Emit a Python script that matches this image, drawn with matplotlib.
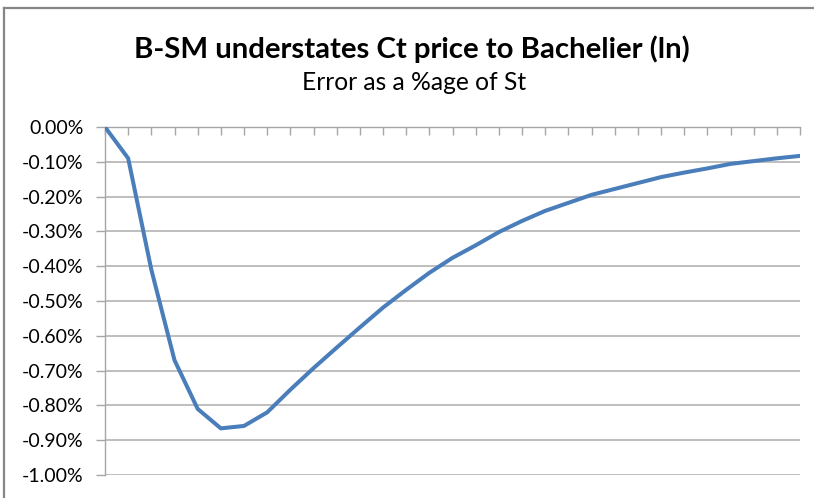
import matplotlib
matplotlib.use("Agg")
import matplotlib.pyplot as plt
from matplotlib.lines import Line2D
from matplotlib.ticker import FuncFormatter, MultipleLocator

# ---- data (error as a fraction of St) ----
steps = list(range(31))
error = [0.0, -0.0009, -0.0041, -0.0067, -0.0081, -0.00866, -0.00859, -0.0082,
         -0.00755, -0.00693, -0.00634, -0.00576, -0.00519, -0.00468, -0.00419,
         -0.00376, -0.00340, -0.00302, -0.00270, -0.00241, -0.00218, -0.00195,
         -0.00178, -0.00161, -0.00144, -0.00131, -0.00119, -0.00106, -0.00098,
         -0.00090, -0.00083]
title = "B-SM understates Ct price to Bachelier (ln)"
subtitle = "Error as a %age of St"

W, H = 814, 498
fig = plt.figure(figsize=(W / 100, H / 100), dpi=100)
fig.patch.set_facecolor("white")

ax = fig.add_axes([105 / W, 1 - 475 / H, (800 - 105) / W, (475 - 127) / H])
ax.plot(steps, error, color="#4A7EBB", lw=2.9, solid_joinstyle="round", zorder=3)
ax.set_xlim(0, 30)
ax.set_ylim(-0.01, 0)

ax.yaxis.set_major_locator(MultipleLocator(0.001))
ax.yaxis.set_major_formatter(FuncFormatter(
    lambda v, p: "0.00%" if abs(v) < 1e-12 else f"{v * 100:.2f}%"))
ax.grid(axis="y", color="#B3B3B3", lw=1.2, zorder=1)
ax.set_axisbelow(True)

for s in ("right", "bottom"):
    ax.spines[s].set_visible(False)
for s in ("left", "top"):
    ax.spines[s].set_color("#A6A6A6")
    ax.spines[s].set_linewidth(1.0)

ax.xaxis.set_ticks_position("top")
ax.set_xticks(steps)
ax.tick_params(axis="x", which="both", direction="in", length=6, color="#A6A6A6",
               labeltop=False, labelbottom=False, width=1.0)
ax.tick_params(axis="y", direction="out", length=6.5, color="#A6A6A6", width=1.0,
               pad=9, labelsize=14, labelcolor="#000000")
for lab in ax.get_yticklabels():
    lab.set_fontfamily("Lato")

# title and subtitle, scaled to match widths
renderer = fig.canvas.get_renderer()
t = fig.text(411.5 / W, 1 - 58 / H, title, ha="center", va="baseline",
             fontsize=18, fontweight="bold", family="Lato")
wpx = t.get_window_extent(renderer).width
t.set_fontsize(18 * 557 / wpx)
st = fig.text(414.5 / W, 1 - 90 / H, subtitle, ha="center", va="baseline",
              fontsize=14, family="Lato")
wpx = st.get_window_extent(renderer).width
st.set_fontsize(14 * 225 / wpx)

# chart border (Excel frame)
fig.add_artist(Line2D([4 / W, 1], [1 - 8 / H, 1 - 8 / H], color="#868686", lw=1.6,
                      transform=fig.transFigure))
fig.add_artist(Line2D([4 / W, 4 / W], [0, 1 - 8 / H], color="#868686", lw=1.6,
                      transform=fig.transFigure))

fig.savefig("out.png", dpi=100, facecolor="white")
